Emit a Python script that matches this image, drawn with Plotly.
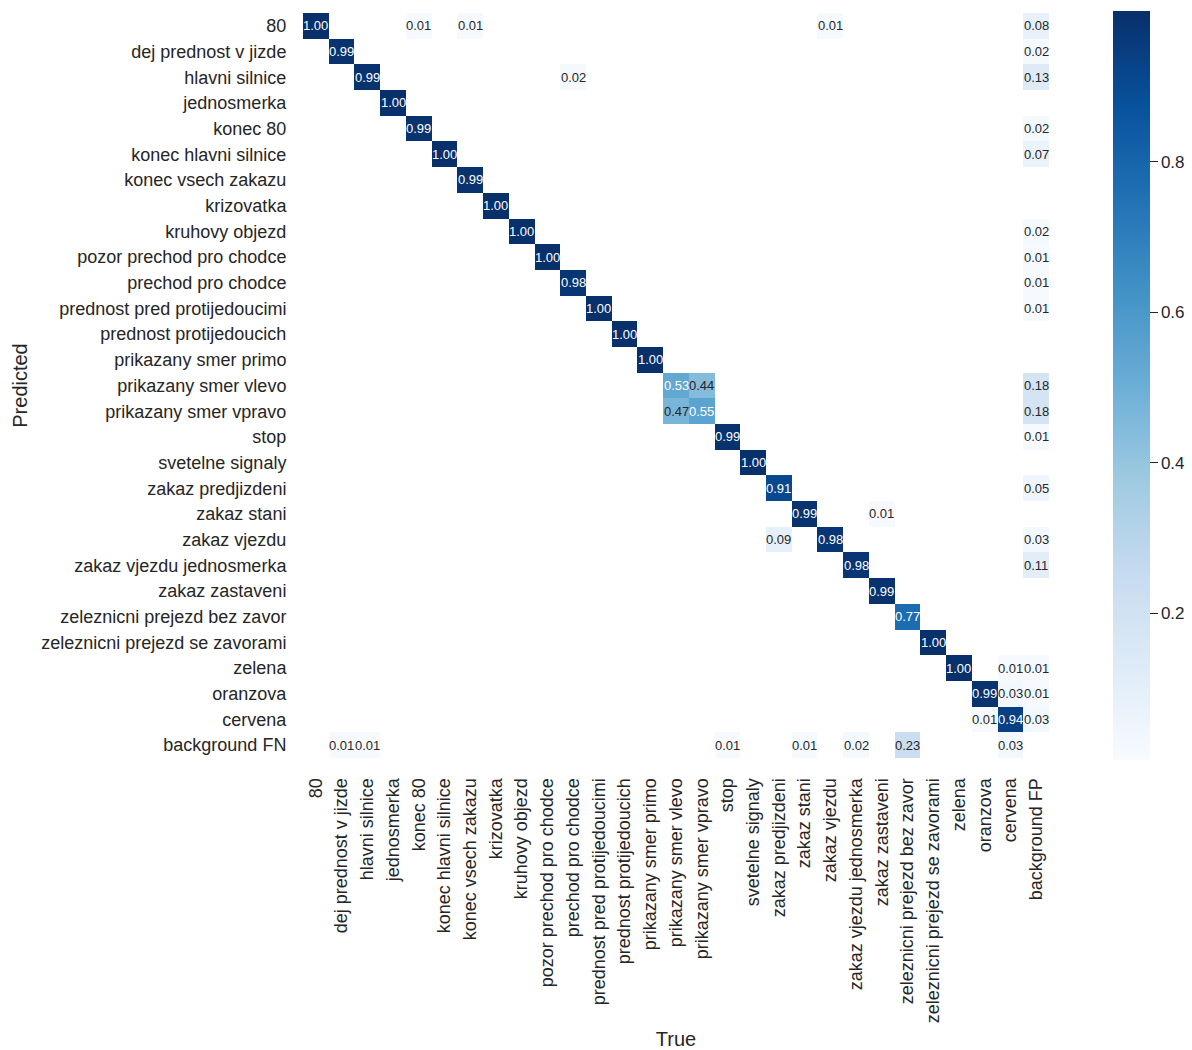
import numpy as np
import plotly.graph_objects as go

# Class names (rows = predicted, columns = true)
classes = [
    "80", "dej prednost v jizde", "hlavni silnice", "jednosmerka", "konec 80",
    "konec hlavni silnice", "konec vsech zakazu", "krizovatka", "kruhovy objezd",
    "pozor prechod pro chodce", "prechod pro chodce", "prednost pred protijedoucimi",
    "prednost protijedoucich", "prikazany smer primo", "prikazany smer vlevo",
    "prikazany smer vpravo", "stop", "svetelne signaly", "zakaz predjizdeni",
    "zakaz stani", "zakaz vjezdu", "zakaz vjezdu jednosmerka", "zakaz zastaveni",
    "zeleznicni prejezd bez zavor", "zeleznicni prejezd se zavorami", "zelena",
    "oranzova", "cervena",
]
row_labels = classes + ["background FN"]
col_labels = classes + ["background FP"]

# Normalised confusion values on the diagonal (one per class)
diagonal = [
    1.00, 0.99, 0.99, 1.00, 0.99, 1.00, 0.99, 1.00, 1.00, 1.00, 0.98, 1.00,
    1.00, 1.00, 0.53, 0.55, 0.99, 1.00, 0.91, 0.99, 0.98, 0.98, 0.99, 0.77,
    1.00, 1.00, 0.99, 0.94,
]

# Last column: predictions that matched background (false positives)
background_fp = {
    "80": 0.08, "dej prednost v jizde": 0.02, "hlavni silnice": 0.13,
    "konec 80": 0.02, "konec hlavni silnice": 0.07, "kruhovy objezd": 0.02,
    "pozor prechod pro chodce": 0.01, "prechod pro chodce": 0.01,
    "prednost pred protijedoucimi": 0.01, "prikazany smer vlevo": 0.18,
    "prikazany smer vpravo": 0.18, "stop": 0.01, "zakaz predjizdeni": 0.05,
    "zakaz vjezdu": 0.03, "zakaz vjezdu jednosmerka": 0.11, "zelena": 0.01,
    "oranzova": 0.01, "cervena": 0.03,
}

# Last row: objects missed entirely (false negatives)
background_fn = {
    "dej prednost v jizde": 0.01, "hlavni silnice": 0.01, "stop": 0.01,
    "zakaz stani": 0.01, "zakaz vjezdu jednosmerka": 0.02,
    "zeleznicni prejezd bez zavor": 0.23, "cervena": 0.03,
}

# Remaining off-diagonal confusions: (predicted, true, value)
confusions = [
    ("80", "konec 80", 0.01),
    ("80", "konec vsech zakazu", 0.01),
    ("80", "zakaz vjezdu", 0.01),
    ("hlavni silnice", "prechod pro chodce", 0.02),
    ("prikazany smer vlevo", "prikazany smer vpravo", 0.44),
    ("prikazany smer vpravo", "prikazany smer vlevo", 0.47),
    ("zakaz stani", "zakaz zastaveni", 0.01),
    ("zakaz vjezdu", "zakaz predjizdeni", 0.09),
    ("zelena", "cervena", 0.01),
    ("oranzova", "cervena", 0.03),
    ("cervena", "oranzova", 0.01),
]

n = len(row_labels)
matrix = np.full((n, n), np.nan)
for i, v in enumerate(diagonal):
    matrix[i, i] = v
for name, v in background_fp.items():
    matrix[row_labels.index(name), n - 1] = v
for name, v in background_fn.items():
    matrix[n - 1, col_labels.index(name)] = v
for pred, true, v in confusions:
    matrix[row_labels.index(pred), col_labels.index(true)] = v

font_family = "Liberation Sans, Arial, sans-serif"
text_dark = "#262626"
idx = list(range(n))

fig = go.Figure(
    go.Heatmap(
        z=matrix,
        x=idx,
        y=idx,
        colorscale="Blues",
        zmin=0.005,
        zmax=1.0,
        hoverongaps=False,
        colorbar=dict(
            x=1.086, xanchor="left", xref="paper", xpad=0, ypad=0,
            y=0.5, yanchor="middle", len=1.005, lenmode="fraction",
            thickness=37, outlinewidth=0,
            tickvals=[0.2, 0.4, 0.6, 0.8],
            ticktext=["0.2", "0.4", "0.6", "0.8"],
            ticks="outside", ticklen=8, tickwidth=1.3, tickcolor=text_dark,
            tickfont=dict(size=17, color=text_dark, family=font_family),
        ),
    )
)

# Cell value labels
annotations = []
for i in range(n):
    for j in range(n):
        v = matrix[i, j]
        if np.isnan(v):
            continue
        annotations.append(dict(
            x=j, y=i, xref="x", yref="y",
            text=f"{v:.2f}", showarrow=False,
            font=dict(size=13, family=font_family,
                      color="#ffffff" if v > 0.5 else text_dark),
        ))

fig.update_layout(
    width=1192, height=1050,
    margin=dict(l=303, r=143, t=13, b=292, autoexpand=False),
    paper_bgcolor="white", plot_bgcolor="white",
    font=dict(family=font_family, color=text_dark),
    annotations=annotations,
    showlegend=False,
)
fig.update_xaxes(
    range=[-0.5, n - 0.5], tickmode="array", tickvals=idx, ticktext=col_labels,
    tickangle=-90, showgrid=False, zeroline=False,
    ticks="outside", ticklen=12, tickcolor="rgba(0,0,0,0)",
    tickfont=dict(size=18, color=text_dark),
    title=dict(text="True", font=dict(size=20, color=text_dark), standoff=13),
    showline=False,
)
fig.update_yaxes(
    range=[n - 0.5, -0.5], tickmode="array", tickvals=idx, ticktext=row_labels,
    showgrid=False, zeroline=False,
    ticks="outside", ticklen=12, tickcolor="rgba(0,0,0,0)",
    tickfont=dict(size=18, color=text_dark),
    title=dict(text="Predicted", font=dict(size=20, color=text_dark), standoff=8),
    showline=False,
)

fig.write_html("out.html")
